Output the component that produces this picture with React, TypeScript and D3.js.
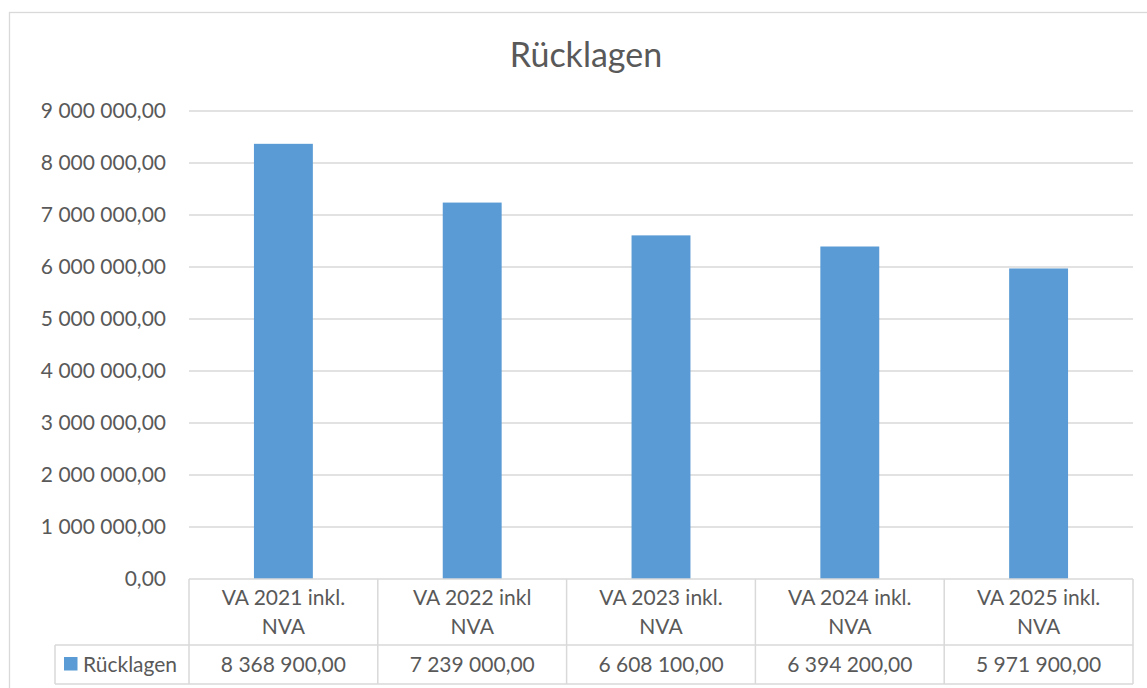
import React from "react";
import * as d3 from "d3";

const categoriesLine1 = ["VA 2021 inkl.", "VA 2022 inkl", "VA 2023 inkl.", "VA 2024 inkl.", "VA 2025 inkl."];
const categoriesLine2 = ["NVA", "NVA", "NVA", "NVA", "NVA"];
const seriesName = "Rücklagen";
const values = [8368900, 7239000, 6608100, 6394200, 5971900];
const yTicks = [0, 1000000, 2000000, 3000000, 4000000, 5000000, 6000000, 7000000, 8000000, 9000000];
const title = "Rücklagen";

const W = 1147;
const H = 688;
const FONT = "Lato, 'Open Sans', sans-serif";
const TEXT = "#595959";
const GRID = "#d9d9d9";
const BAR = "#5b9bd5";
const FS = 21;

const locale = d3.formatLocale({ decimal: ",", thousands: "\u00a0", grouping: [3], currency: ["", "€"] });
const fmt = locale.format(",.2f");

export default function App() {
  const left = 189;
  const right = 1133;
  const top = 111;
  const zeroY = 579;
  const row1Bottom = 645;
  const row2Bottom = 684;
  const legendLeft = 55;

  const y = d3.scaleLinear().domain([0, 9000000]).range([zeroY, top]);
  const x = d3.scaleBand<number>().domain(values.map((_, i) => i)).range([left, right]).paddingInner(0).paddingOuter(0);
  const bw = x.bandwidth();
  const barW = bw * 0.312;

  return (
    <svg width={W} height={H} style={{ position: "absolute", left: 0, top: 0, background: "#fff" }} fontFamily={FONT}>
      <rect x={9.5} y={12.5} width={W + 10} height={H + 10} fill="#fff" stroke={GRID} strokeWidth={1.3} />
      <text x={586} y={67} textAnchor="middle" fontSize={34} fill={TEXT}>{title}</text>

      {yTicks.map((t) => (
        <g key={t}>
          {t > 0 && <line x1={left} x2={right} y1={y(t)} y2={y(t)} stroke={GRID} strokeWidth={1.3} />}
          <text x={166} y={y(t)} dy="0.35em" textAnchor="end" fontSize={FS} fill={TEXT}>{fmt(t)}</text>
        </g>
      ))}

      {values.map((v, i) => (
        <rect key={i} x={x(i)! + bw / 2 - barW / 2} y={y(v)} width={barW} height={zeroY - y(v)} fill={BAR} />
      ))}

      {/* data table */}
      <line x1={left} x2={right} y1={zeroY} y2={zeroY} stroke={GRID} strokeWidth={1.5} />
      <line x1={legendLeft} x2={right} y1={row1Bottom} y2={row1Bottom} stroke={GRID} strokeWidth={1.5} />
      <line x1={legendLeft} x2={right} y1={row2Bottom} y2={row2Bottom} stroke={GRID} strokeWidth={1.5} />
      <line x1={legendLeft} x2={legendLeft} y1={row1Bottom} y2={row2Bottom} stroke={GRID} strokeWidth={1.5} />
      {values.map((_, i) => (
        <line key={"v" + i} x1={x(i)!} x2={x(i)!} y1={zeroY} y2={row2Bottom} stroke={GRID} strokeWidth={1.5} />
      ))}
      <line x1={right} x2={right} y1={zeroY} y2={row2Bottom} stroke={GRID} strokeWidth={1.5} />

      {values.map((v, i) => (
        <g key={"c" + i}>
          <text x={x(i)! + bw / 2} y={598} dy="0.35em" textAnchor="middle" fontSize={FS} fill={TEXT}>{categoriesLine1[i]}</text>
          <text x={x(i)! + bw / 2} y={627} dy="0.35em" textAnchor="middle" fontSize={FS} fill={TEXT}>{categoriesLine2[i]}</text>
          <text x={x(i)! + bw / 2} y={664.5} dy="0.35em" textAnchor="middle" fontSize={FS} fill={TEXT}>{fmt(v)}</text>
        </g>
      ))}

      <rect x={64} y={657} width={13.5} height={13.5} fill={BAR} />
      <text x={83} y={664.5} dy="0.35em" fontSize={FS} fill={TEXT}>{seriesName}</text>
    </svg>
  );
}
